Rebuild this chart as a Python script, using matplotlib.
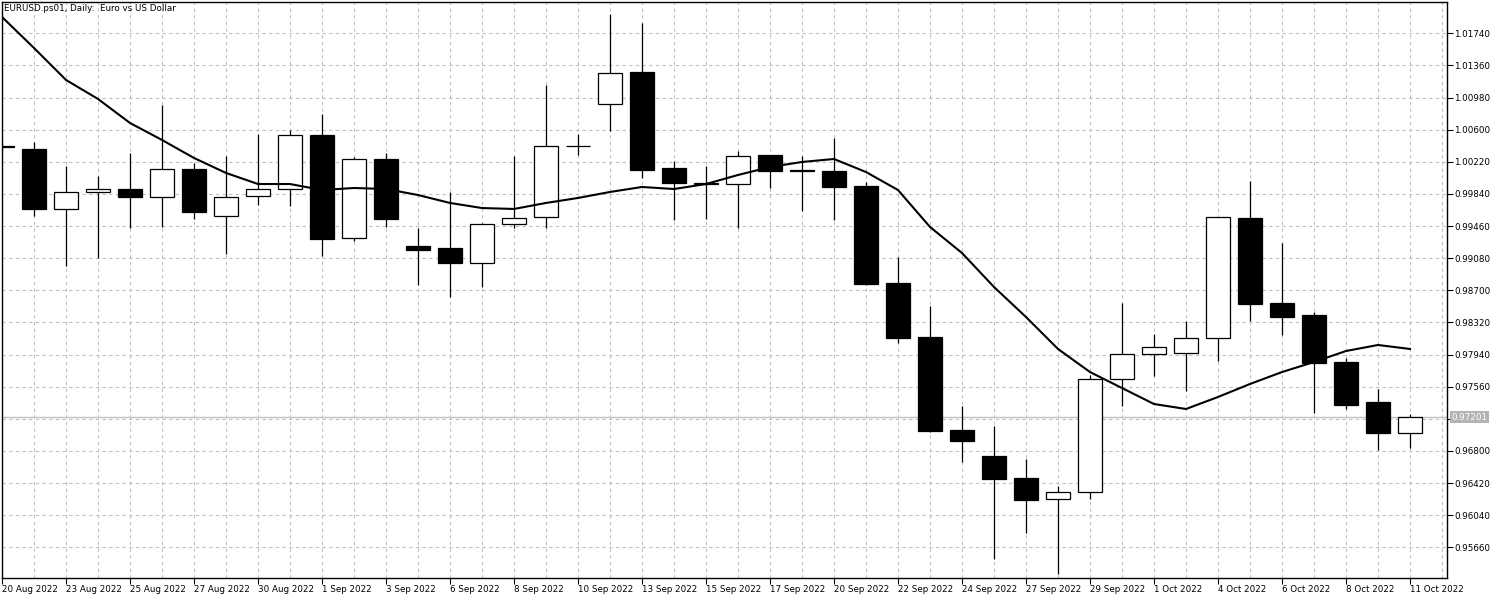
# EURUSD daily candles with moving average, MT5 style
import matplotlib
matplotlib.use('Agg')
import matplotlib.pyplot as plt
import matplotlib.transforms as mtransforms

# OHLC values (20 Aug 2022 .. 11 Oct 2022, Mon-Sat bars)
opens = [1.00401, 1.00368, 0.99658, 0.99859, 0.99895, 0.99800, 1.00131, 0.99575, 0.99812,
         0.99895, 1.00537, 0.99315, 1.00250, 0.99224, 0.99200, 0.99026, 0.99481, 0.99564,
         1.00412, 1.00900, 1.01282, 1.00147, 0.99969, 0.99954, 1.00295, 1.00122, 1.00108,
         0.99934, 0.98783, 0.98144, 0.97044, 0.96740, 0.96476, 0.96228, 0.96311, 0.97647,
         0.97943, 0.97955, 0.98132, 0.99552, 0.98550, 0.98404, 0.97848, 0.97375, 0.97015]
highs = [1.00430, 1.00458, 1.00170, 1.00052, 1.00328, 1.00892, 1.00209, 1.00289, 1.00545,
         1.00596, 1.00785, 1.00280, 1.00328, 0.99437, 0.99859, 0.99493, 1.00292, 1.01128,
         1.00549, 1.01968, 1.01865, 1.00226, 1.00174, 1.00351, 1.00300, 1.00289, 1.00502,
         0.99978, 0.99090, 0.98514, 0.97331, 0.97095, 0.96704, 0.96385, 0.97698, 0.98546,
         0.98183, 0.98337, 0.99571, 0.99993, 0.99263, 0.98443, 0.97903, 0.97532, 0.97233]
lows = [1.00370, 0.99582, 0.98991, 0.99082, 0.99437, 0.99452, 0.99543, 0.99129, 0.99709,
        0.99701, 0.99102, 0.99283, 0.99445, 0.98766, 0.98617, 0.98743, 0.99437, 0.99433,
        1.00304, 1.00588, 1.00028, 0.99532, 0.99543, 0.99440, 0.99907, 0.99638, 0.99532,
        0.98766, 0.98073, 0.97027, 0.96672, 0.95525, 0.95833, 0.95344, 0.96235, 0.97331,
        0.97686, 0.97512, 0.97867, 0.98340, 0.98175, 0.97252, 0.97296, 0.96811, 0.96838]
closes = [1.00397, 0.99658, 0.99859, 0.99895, 0.99800, 1.00131, 0.99630, 0.99807, 0.99895,
          1.00533, 0.99310, 1.00250, 0.99540, 0.99180, 0.99026, 0.99484, 0.99552, 1.00407,
          1.00408, 1.01270, 1.00127, 0.99966, 0.99954, 1.00285, 1.00115, 1.00116, 0.99925,
          0.98778, 0.98139, 0.97039, 0.96921, 0.96471, 0.96223, 0.96311, 0.97647, 0.97943,
          0.98026, 0.98132, 0.99564, 0.98541, 0.98388, 0.97843, 0.97343, 0.97015, 0.97201]

# moving average line
ma = [1.01933, 1.01566, 1.01188, 1.00963, 1.00679, 1.00478, 1.00265, 1.00088, 0.99957,
      0.99957, 0.99886, 0.99910, 0.99898, 0.99827, 0.99733, 0.99673, 0.99662, 0.99733,
      0.99792, 0.99863, 0.99922, 0.99898, 0.99957, 1.00064, 1.00158, 1.00218, 1.00253,
      1.00099, 0.99886, 0.99449, 0.99141, 0.98739, 0.98384, 0.98006, 0.97733, 0.97544,
      0.97355, 0.97296, 0.97438, 0.97592, 0.97733, 0.97852, 0.97982, 0.98053, 0.98006]

date_labels = ['20 Aug 2022', '23 Aug 2022', '25 Aug 2022', '27 Aug 2022', '30 Aug 2022',
               '1 Sep 2022', '3 Sep 2022', '6 Sep 2022', '8 Sep 2022', '10 Sep 2022',
               '13 Sep 2022', '15 Sep 2022', '17 Sep 2022', '20 Sep 2022', '22 Sep 2022',
               '24 Sep 2022', '27 Sep 2022', '29 Sep 2022', '1 Oct 2022', '4 Oct 2022',
               '6 Oct 2022', '8 Oct 2022', '11 Oct 2022']

price_ticks = [1.01740, 1.01360, 1.00980, 1.00600, 1.00220, 0.99840, 0.99460, 0.99080,
               0.98700, 0.98320, 0.97940, 0.97560, 0.97180, 0.96800, 0.96420, 0.96040, 0.95660]
last_price = 0.97201

FONT = 'DejaVu Sans'
FS = 6.3

fig = plt.figure(figsize=(15, 6), dpi=100)
ax = fig.add_axes([2 / 1500, 1 - 578 / 600, 1445 / 1500, 576 / 600])

n = len(opens)
xs = list(range(n))

# grid + price line
ax.set_axisbelow(True)
ax.axhline(last_price, color='#c0c0c0', lw=1, zorder=0.8)

# wicks
ax.vlines(xs, lows, highs, color='black', lw=0.9, zorder=2)

# bodies
for i in xs:
    o, c = opens[i], closes[i]
    up = c > o
    ax.bar(i, abs(c - o), bottom=min(o, c), width=0.72,
           color='white' if up else 'black', edgecolor='black', linewidth=0.9, zorder=3)

# moving average
ax.plot(xs, ma, color='black', lw=1.5, zorder=4, solid_joinstyle='round')

ax.set_xlim(0, 45.156)
ax.set_ylim(0.95297, 1.02110)

# x axis: labels every second bar, grid every bar
ax.set_xticks(list(range(0, n, 2)))
ax.set_xticklabels(date_labels, fontsize=FS, family=FONT, ha='left')
ax.set_xticks(list(range(1, n + 1, 2)), minor=True)
ax.tick_params(axis='x', which='major', length=4, width=0.8, pad=1, direction='out')
ax.tick_params(axis='x', which='minor', length=0)

# y axis on the right
ax.yaxis.tick_right()
ax.set_yticks(price_ticks)
ax.set_yticklabels(['' if abs(p - 0.97180) < 1e-6 else '%.5f' % p for p in price_ticks],
                   fontsize=FS, family=FONT)
ax.tick_params(axis='y', length=4, width=0.8, pad=1, direction='out')

ax.grid(True, which='both', linestyle=(0, (3, 3)), color='#c0c0c0', lw=0.8)

for s in ax.spines.values():
    s.set_color('black')
    s.set_linewidth(1)

# title
ax.text(0.0015, 0.996, 'EURUSD.ps01, Daily:  Euro vs US Dollar', transform=ax.transAxes,
        ha='left', va='top', fontsize=FS, family=FONT, color='black')

# last price label
trans = mtransforms.blended_transform_factory(ax.transAxes, ax.transData)
ax.text(1.003, last_price, '%.5f' % last_price, transform=trans, ha='left', va='center',
        fontsize=FS, family=FONT, color='white',
        bbox=dict(boxstyle='square,pad=0.15', fc='#b4b4b4', ec='none'))

fig.savefig('out.png', dpi=100)
